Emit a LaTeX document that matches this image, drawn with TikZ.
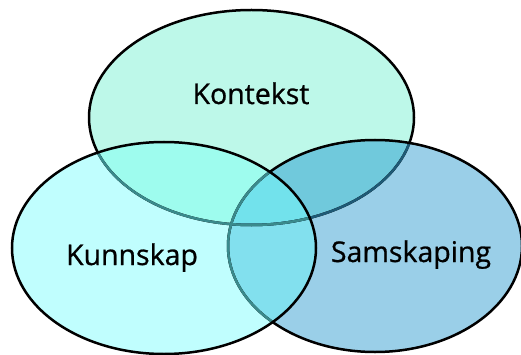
\documentclass[tikz,border=0pt]{standalone}
\usepackage{fontspec}
\setmainfont{Open Sans}
\newfontfamily\lblfont{Open Sans}[FakeBold=0.8]
\definecolor{cT}{RGB}{189,248,233}
\definecolor{cL}{RGB}{192,254,254}
\definecolor{cR}{RGB}{154,207,232}
\definecolor{cTL}{RGB}{158,252,238}
\definecolor{cTR}{RGB}{112,201,220}
\definecolor{cLR}{RGB}{130,224,238}
\definecolor{cTLR}{RGB}{114,226,236}
\definecolor{lineL}{RGB}{58,138,140}
\definecolor{lineR}{RGB}{30,90,118}
\begin{document}
\begin{tikzpicture}[x=1pt,y=-1pt,
  lbl/.style={font=\lblfont\fontsize{28.5}{34}\selectfont, anchor=base, inner sep=0pt},
  outline/.style={line width=2.5pt}]
\useasboundingbox (0,0) rectangle (521,355);
\def\Tpath{(251.5,117.5) ellipse [x radius=162.5pt, y radius=107.5pt]}
\def\Lpath{(164,248) ellipse [x radius=152pt, y radius=106pt]}
\def\Rpath{(375,246) ellipse [x radius=147pt, y radius=106pt]}
% fills
\fill[cT] \Tpath;
\fill[cR] \Rpath;
\fill[cL] \Lpath;
\begin{scope}
  \clip \Tpath;
  \fill[cTR] \Rpath;
  \fill[cTL] \Lpath;
\end{scope}
\begin{scope}
  \clip \Lpath;
  \fill[cLR] \Rpath;
  \clip \Tpath;
  \fill[cTLR] \Rpath;
\end{scope}
% outlines
\draw[outline] \Tpath;
\begin{scope}
  \clip \Rpath;
  \draw[outline, lineR] \Tpath;
\end{scope}
\draw[outline] \Rpath;
\begin{scope}
  \clip \Lpath;
  \draw[outline, lineL] \Tpath;
  \draw[outline, lineL] \Rpath;
\end{scope}
\draw[outline] \Lpath;
% labels
\node[lbl] (kontekst) at (251,104) {Kontekst};
\node[lbl] (kunnskap) at (132,265) {Kunnskap};
\node[lbl] (samskaping) at (411,262) {Samskaping};
\end{tikzpicture}
\end{document}
